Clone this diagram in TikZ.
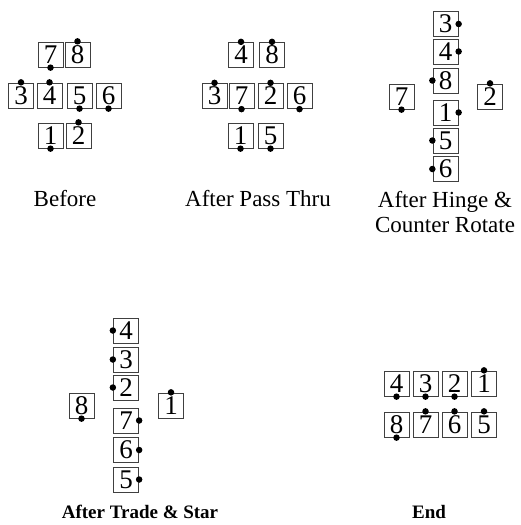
\documentclass[tikz,border=0pt]{standalone}
\usepackage{fontspec}
\setmainfont{Liberation Serif}
\usepackage{tikz}
\usetikzlibrary{positioning}

\begin{document}
\begin{tikzpicture}[
	  x=1pt, y=-1pt,
	  dancer/.style = {shape=rectangle, draw=black!75, line width=0.8pt, fill=white, minimum size=25pt, inner sep=0pt, font=\fontsize{27}{27}\selectfont},
	  nose/.style = {circle, fill=black, inner sep=0pt, minimum size=6.5pt, label distance=-3.2pt},
	  facesup/.style = {label={[nose]north:}},
	  facesdown/.style = {label={[nose]south:}},
	  facesleft/.style = {label={[nose]west:}},
	  facesright/.style = {label={[nose]east:}},
	  caption/.style = {align=center, font=\fontsize{23}{25}\selectfont},
	  boldcaption/.style = {align=center, font=\fontsize{19}{21}\selectfont\bfseries}
	]
	  \useasboundingbox (0,0) rectangle (520,525);

	  % before
	  \node[dancer, facesdown] (b7) at (50.5,54.5) {7};
	  \node[dancer, facesup] (b8) at (77.5,54.5) {8};
	  \node[dancer, facesup] (b3) at (21,95.5) {3};
	  \node[dancer, facesup] (b4) at (49.5,95.5) {4};
	  \node[dancer, facesdown] (b5) at (79.5,95.5) {5};
	  \node[dancer, facesdown] (b6) at (108.5,95.5) {6};
	  \node[dancer, facesdown] (b1) at (50.5,135.5) {1};
	  \node[dancer, facesup] (b2) at (78.5,135.5) {2};
	  \node[caption] (before) at (65,199) {Before};

	  % after pass thru
	  \node[dancer, facesup] (p4) at (241,55) {4};
	  \node[dancer, facesup] (p8) at (272,55) {8};
	  \node[dancer, facesup] (p3) at (214.5,96) {3};
	  \node[dancer, facesdown] (p7) at (241.5,96) {7};
	  \node[dancer, facesup] (p2) at (270.5,96) {2};
	  \node[dancer, facesdown] (p6) at (299.5,96) {6};
	  \node[dancer, facesdown] (p1) at (240.5,135.5) {1};
	  \node[dancer, facesdown] (p5) at (270.5,135.5) {5};
	  \node[caption] (passthru) at (258,199) {After Pass Thru};

	  % after hinge & counter rotate
	  \node[dancer, facesright] (h3) at (445.5,24) {3};
	  \node[dancer, facesright] (h4) at (445.5,51.5) {4};
	  \node[dancer, facesleft] (h8) at (445.5,80.5) {8};
	  \node[dancer, facesright] (h1) at (445.5,112.5) {1};
	  \node[dancer, facesleft] (h5) at (445.5,140.5) {5};
	  \node[dancer, facesleft] (h6) at (445.5,169) {6};
	  \node[dancer, facesdown] (h7) at (401.5,96.5) {7};
	  \node[dancer, facesup] (h2) at (490,96.5) {2};
	  \node[caption] (hinge) at (445,212.5) {After Hinge \&\\Counter Rotate};

	  % after trade & star
	  \node[dancer, facesleft] (t4) at (126,330.5) {4};
	  \node[dancer, facesleft] (t3) at (126,359.5) {3};
	  \node[dancer, facesleft] (t2) at (126,387.5) {2};
	  \node[dancer, facesright] (t7) at (126,420.5) {7};
	  \node[dancer, facesright] (t6) at (126,450) {6};
	  \node[dancer, facesright] (t5) at (126,479.5) {5};
	  \node[dancer, facesdown] (t8) at (81.5,405.5) {8};
	  \node[dancer, facesup] (t1) at (171,405.5) {1};
	  \node[boldcaption] (tradestar) at (140,512) {After Trade \& Star};

	  % end
	  \node[dancer, facesdown] (e4) at (396.5,383.5) {4};
	  \node[dancer, facesdown] (e3) at (425.5,383.5) {3};
	  \node[dancer, facesdown] (e2) at (454.5,383.5) {2};
	  \node[dancer, facesup] (e1) at (484,383.5) {1};
	  \node[dancer, facesdown] (e8) at (396.5,424.5) {8};
	  \node[dancer, facesup] (e7) at (425.5,424.5) {7};
	  \node[dancer, facesup] (e6) at (454.5,424.5) {6};
	  \node[dancer, facesup] (e5) at (484,424.5) {5};
	  \node[boldcaption] (theend) at (429,512) {End};
	\end{tikzpicture}
\end{document}
